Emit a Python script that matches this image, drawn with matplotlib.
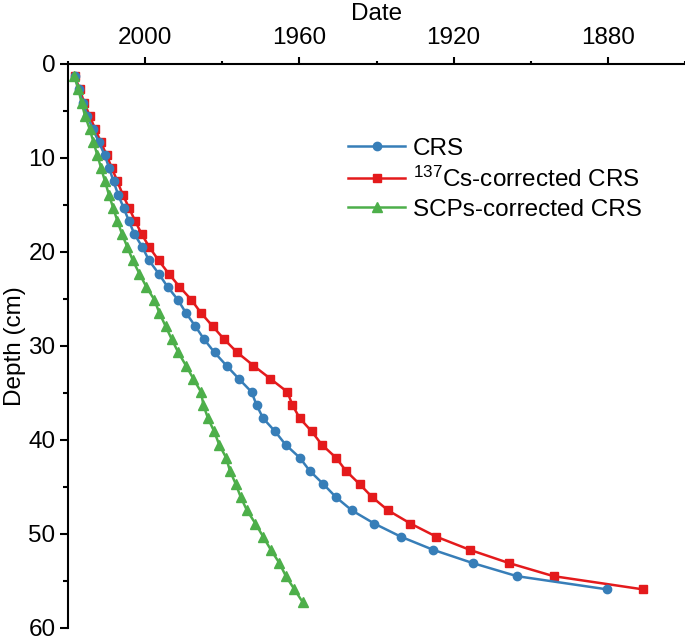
import matplotlib
matplotlib.use('Agg')
import matplotlib.pyplot as plt
from matplotlib.ticker import MultipleLocator

plt.rcParams['font.family'] = ['Liberation Sans', 'DejaVu Sans']
plt.rcParams['mathtext.default'] = 'regular'

# sample depths (cm)
depth = [1.3, 2.7, 4.1, 5.5, 6.9, 8.3, 9.7, 11.1, 12.5, 13.9, 15.3, 16.7, 18.1, 19.5,
         20.9, 22.3, 23.7, 25.1, 26.5, 27.9, 29.3, 30.7, 32.1, 33.5, 34.9, 36.3, 37.7,
         39.1, 40.5, 41.9, 43.3, 44.7, 46.1, 47.5, 48.9, 50.3, 51.7, 53.1, 54.5, 55.9, 57.3]

# ages (year AD)
crs = [2018.3, 2017.2, 2016.2, 2015.0, 2013.6, 2012.0, 2010.5, 2009.3, 2008.2, 2007.0,
       2005.6, 2004.2, 2002.8, 2000.7, 1999.0, 1996.5, 1994.2, 1991.5, 1989.4, 1987.0,
       1984.7, 1982.0, 1978.9, 1975.7, 1972.4, 1971.1, 1969.4, 1966.3, 1963.6, 1959.9,
       1957.3, 1953.8, 1950.5, 1946.4, 1940.6, 1933.7, 1925.3, 1915.1, 1903.6, 1880.3]
cs_crs = [2018.2, 2017.0, 2015.8, 2014.4, 2013.0, 2011.5, 2010.0, 2008.6, 2007.2, 2005.8,
          2004.2, 2002.6, 2000.9, 1998.9, 1996.5, 1993.9, 1991.1, 1988.0, 1985.5, 1982.5,
          1979.5, 1976.1, 1971.9, 1967.5, 1963.1, 1961.8, 1959.9, 1956.8, 1954.2, 1950.5,
          1947.9, 1944.4, 1941.1, 1937.0, 1931.2, 1924.5, 1915.8, 1905.7, 1894.1, 1871.0]
scp_crs = [2018.4, 2017.3, 2016.5, 2015.6, 2014.4, 2013.4, 2012.4, 2011.4, 2010.4, 2009.4,
           2008.3, 2007.2, 2006.0, 2004.6, 2003.2, 2001.5, 1999.7, 1997.6, 1996.3, 1994.7,
           1993.1, 1991.4, 1989.4, 1987.5, 1985.5, 1984.9, 1983.7, 1982.1, 1980.8, 1979.0,
           1978.0, 1976.5, 1975.2, 1973.6, 1971.4, 1969.4, 1967.4, 1965.2, 1963.5, 1961.3,
           1959.1]

fig = plt.figure(figsize=(6.85, 6.40), dpi=100)
ax = fig.add_axes([0.0993, 0.019, 0.9007, 0.881])

l1, = ax.plot(crs, depth[:len(crs)], '-o', color='#377EB8', lw=1.8, ms=6, zorder=3,
              label='CRS')
l2, = ax.plot(cs_crs, depth[:len(cs_crs)], '-s', color='#E41A1C', lw=1.8, ms=6, zorder=2,
              label='$^{137}$Cs-corrected CRS')
l3, = ax.plot(scp_crs, depth, '-^', color='#4DAF4A', lw=1.8, ms=6.5, zorder=4,
              label='SCPs-corrected CRS')

ax.set_xlim(2020, 1860)
ax.set_ylim(60, 0)
ax.xaxis.tick_top()
ax.xaxis.set_label_position('top')
ax.xaxis.set_minor_locator(MultipleLocator(20))
ax.yaxis.set_major_locator(MultipleLocator(10))
ax.yaxis.set_minor_locator(MultipleLocator(5))
ax.set_xticks([2000, 1960, 1920, 1880])

for s in ['right', 'bottom']:
    ax.spines[s].set_visible(False)
for s in ['left', 'top']:
    ax.spines[s].set_linewidth(1.5)

ax.tick_params(axis='x', which='major', length=5, width=1.5, labelsize=17.5, pad=6)
ax.tick_params(axis='x', which='minor', length=2.5, width=1.5)
ax.tick_params(axis='y', which='major', length=6, width=1.5, labelsize=17.5, pad=3)
ax.tick_params(axis='y', which='minor', length=3.5, width=1.5)

ax.set_xlabel('Date', fontsize=17.5, labelpad=5)
ax.set_ylabel('Depth (cm)', fontsize=17.5, labelpad=2)

ax.legend(handles=[l1, l2, l3], loc='upper left', bbox_to_anchor=(0.454, 0.869),
          frameon=False, fontsize=17.5, numpoints=1, handlelength=2.35,
          handletextpad=0.3, labelspacing=0.28, borderpad=0, borderaxespad=0)

fig.savefig('out.png', dpi=100)
